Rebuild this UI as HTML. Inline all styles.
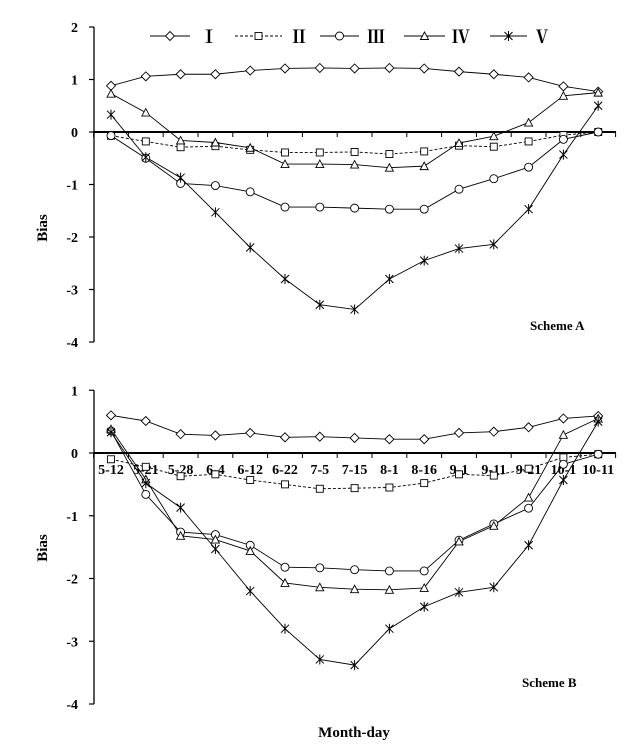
<!DOCTYPE html>
<html><head><meta charset="utf-8"><style>
body{margin:0;background:#fff;}
svg{display:block;font-family:"Liberation Serif",serif;font-weight:bold;}
</style></head><body>
<svg id="s" width="635" height="755" xmlns="http://www.w3.org/2000/svg"></svg>
<script>
const s=document.getElementById('s');
let h='';
const X=i=>111+34.8*i;
function mk(t,x,y){
 if(t==0)return `<path d="M${x-4.5} ${y}L${x} ${y-4.5}L${x+4.5} ${y}L${x} ${y+4.5}Z" fill="#fff" stroke="#000" stroke-width="0.9"/>`;
 if(t==1)return `<rect x="${x-3.5}" y="${y-3.5}" width="7" height="7" fill="#fff" stroke="#000" stroke-width="0.9"/>`;
 if(t==2)return `<circle cx="${x}" cy="${y}" r="4" fill="#fff" stroke="#000" stroke-width="0.9"/>`;
 if(t==3)return `<path d="M${x-4} ${y+3.5}L${x} ${y-4}L${x+4} ${y+3.5}Z" fill="#fff" stroke="#000" stroke-width="0.9"/>`;
 return `<path d="M${x-4} ${y-4}L${x+4} ${y+4}M${x-4} ${y+4}L${x+4} ${y-4}M${x} ${y-5}L${x} ${y+5}" stroke="#000" stroke-width="1"/>`;
}
function panel(y0,u,ymax,ymin,data,labels){
 h+=`<line x1="94" y1="${y0-ymax*u}" x2="94" y2="${y0-ymin*u}" stroke="#000" stroke-width="1.3"/>`;
 for(let v=ymax;v>=ymin;v--){const y=y0-v*u;h+=`<line x1="89" y1="${y}" x2="94" y2="${y}" stroke="#000" stroke-width="1.2"/><text x="78" y="${y+5}" font-size="14" text-anchor="end">${v}</text>`;}
 h+=`<line x1="94" y1="${y0}" x2="616" y2="${y0}" stroke="#000" stroke-width="2"/>`;
 for(let i=0;i<=15;i++){const x=X(i)-17.4;h+=`<line x1="${x}" y1="${y0}" x2="${x}" y2="${y0+5}" stroke="#000" stroke-width="1"/>`;}
 if(labels){const L=["5-12","5-21","5-28","6-4","6-12","6-22","7-5","7-15","8-1","8-16","9-1","9-11","9-21","10-1","10-11"];L.forEach((l,i)=>h+=`<text x="${X(i)}" y="${y0+21}" font-size="14" text-anchor="middle">${l}</text>`);}
 data.forEach((d,t)=>{
  const pts=d.map((v,i)=>X(i)+','+(y0-v*u)).join(' ');
  h+=`<polyline points="${pts}" fill="none" stroke="#000" stroke-width="0.9" ${t==1?'stroke-dasharray="3,2"':''}/>`;
 });
 data.forEach((d,t)=>d.forEach((v,i)=>h+=mk(t,X(i),y0-v*u)));
}
const V=[0.33,-0.48,-0.87,-1.53,-2.20,-2.80,-3.29,-3.38,-2.80,-2.45,-2.22,-2.14,-1.47,-0.43,0.50];
panel(132,52.5,2,-4,[
[0.88,1.06,1.10,1.10,1.17,1.21,1.22,1.21,1.22,1.21,1.15,1.10,1.04,0.87,0.77],
[-0.07,-0.18,-0.29,-0.27,-0.34,-0.39,-0.39,-0.38,-0.42,-0.37,-0.26,-0.28,-0.18,-0.06,0.0],
[-0.07,-0.50,-0.98,-1.02,-1.14,-1.43,-1.43,-1.45,-1.47,-1.47,-1.09,-0.89,-0.67,-0.14,0.0],
[0.73,0.37,-0.16,-0.20,-0.30,-0.61,-0.61,-0.62,-0.68,-0.65,-0.21,-0.08,0.18,0.69,0.75],V],false);
panel(453,62.75,1,-4,[
[0.60,0.51,0.30,0.28,0.32,0.25,0.26,0.24,0.22,0.22,0.32,0.34,0.41,0.55,0.59],
[-0.10,-0.22,-0.37,-0.34,-0.43,-0.50,-0.57,-0.56,-0.55,-0.48,-0.34,-0.36,-0.25,-0.07,-0.02],
[0.35,-0.66,-1.26,-1.30,-1.47,-1.82,-1.83,-1.86,-1.88,-1.88,-1.39,-1.13,-0.88,-0.18,-0.02],
[0.38,-0.42,-1.32,-1.38,-1.56,-2.07,-2.14,-2.17,-2.18,-2.15,-1.41,-1.16,-0.71,0.29,0.55],V],true);
const leg=[[150,190,200,"Ⅰ"],[235,282,290,"Ⅱ"],[320,359,367,"Ⅲ"],[404,445,452,"Ⅳ"],[490,527,533,"Ⅴ"]];
leg.forEach((l,t)=>{h+=`<line x1="${l[0]}" y1="36" x2="${l[1]}" y2="36" stroke="#000" stroke-width="0.9" ${t==1?'stroke-dasharray="3,2"':''}/>`+mk(t,(l[0]+l[1])/2,36)+`<text x="${l[2]}" y="43" font-size="18" style="font-family:'Noto Serif CJK SC',serif">${l[3]}</text>`;});
h+=`<text x="530" y="330" font-size="13">Scheme A</text><text x="522" y="687" font-size="13">Scheme B</text>`;
h+=`<text transform="translate(47,228) rotate(-90)" font-size="15" text-anchor="middle">Bias</text>`;
h+=`<text transform="translate(47,548) rotate(-90)" font-size="15" text-anchor="middle">Bias</text>`;
h+=`<text x="354" y="737" font-size="15" text-anchor="middle">Month-day</text>`;
s.innerHTML=h;
</script>
</body></html>
